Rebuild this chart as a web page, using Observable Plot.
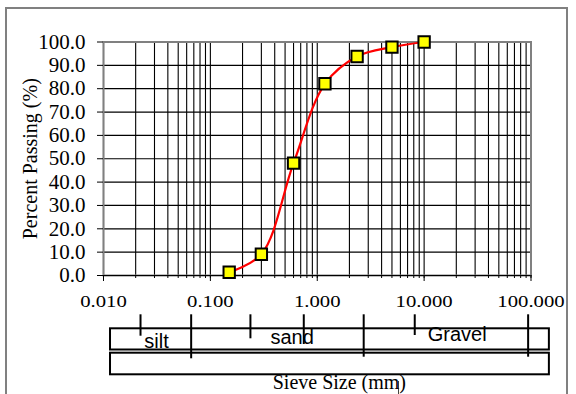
<!DOCTYPE html>
<html><head><meta charset="utf-8">
<script src="https://cdn.jsdelivr.net/npm/d3@7"></script>
<script src="https://cdn.jsdelivr.net/npm/@observablehq/plot@0.6"></script>
<style>
body{margin:0;background:#fff;}
#wrap{position:relative;width:576px;height:394px;overflow:hidden;background:#fff;}
#frame{position:absolute;left:5px;top:7px;width:563px;height:420px;border:2px solid #808080;box-sizing:border-box;}
#main{position:absolute;left:0;top:0;}
#band{position:absolute;left:0;top:305px;}
#stub{position:absolute;left:398px;top:381px;width:1px;height:13px;background:#444;}
#main svg, #main svg text, #main svg g{font-family:'Liberation Serif','Times New Roman',serif !important;}
</style></head><body><div id="wrap"><div id="frame"></div><div id="stub"></div><div id="main"></div><div id="band"></div></div>
<script>
// ---- data ----
const sieveSize = [0.15, 0.3, 0.6, 1.18, 2.36, 5, 10];
const percentPassing = [1.4, 9.1, 48.1, 82.1, 93.8, 97.8, 100];
const xMajorTicks = [0.01, 0.1, 1, 10, 100];
const yTicks = [0, 10, 20, 30, 40, 50, 60, 70, 80, 90, 100];
const xMinorTicks = [-2, -1, 0, 1].flatMap(k => [1,2,3,4,5,6,7,8,9].map(m => +(m * Math.pow(10, k)).toPrecision(3))).concat([100]);

// soil classification band (values in mm on the same log scale)
const classNames = ["silt", "sand", "Gravel"];
const classLabelX = [0.0313, 0.582, 20.4];
const classLabelRow = [3.63, 3.19, 2.86];
const bandTickX = [0.0222, 0.0661, 0.237, 0.748, 2.72, 8.17, 94];
const bandTickEnd = [3.07, 5.33, 3.33, 3.9, 5.17, 3.0, 5.17];
const bandTickStart = 0.93;
const boxRows = [[2.33, 4.45], [4.77, 6.93]];
const boxSpan = [0.01163, 148.6];
const xTitle = "Sieve Size (mm)";
const xTitleX = 1.61, xTitleRow = 7.69;
const yTitle = "Percent Passing (%)";

const serif = "Liberation Serif";
const sans = "Liberation Sans";

const pts = sieveSize.map((s, i) => ({s, p: percentPassing[i]}));

const main = Plot.plot({
  width: 576, height: 315,
  marginLeft: 103, marginRight: 45.5, marginTop: 41.5, marginBottom: 40,
  style: {fontSize: "21px", color: "#000", background: "transparent", overflow: "visible"},
  x: {type: "log", domain: [0.01, 100]},
  y: {domain: [0, 100]},
  marks: [
    Plot.ruleX(xMinorTicks, {stroke: "#000", strokeWidth: 1.1}),
    Plot.ruleY(yTicks, {stroke: "#000", strokeWidth: 1.2}),
    Plot.frame({stroke: "#808080", strokeWidth: 2}),
    Plot.ruleY([0], {stroke: "#000", strokeWidth: 1.2}),
    Plot.axisY(yTicks, {tickSize: 6, tickPadding: 12, tickFormat: d3.format(".1f"), fontSize: 21, fontFamily: serif,
      label: yTitle, labelAnchor: "center", labelArrow: "none", labelOffset: 81}),
    Plot.axisX(xMinorTicks, {tickSize: 3, tickFormat: () => "", label: null}),
    Plot.axisX(xMajorTicks, {tickSize: 6, tickPadding: 13, tickFormat: d3.format(".3f"), fontSize: 17, fontFamily: serif, label: null}),
    Plot.line(pts, {x: "s", y: "p", stroke: "#ff0000", strokeWidth: 2.2, curve: "catmull-rom"}),
    Plot.dot(pts, {x: "s", y: "p", symbol: "square", r: 6.4, fill: "#ffff00", stroke: "#000", strokeWidth: 2})
  ]
});
document.getElementById("main").appendChild(main);
d3.select(main).selectAll('g[aria-label="x-axis tick label"] text').each(function() {
  const t = this.getAttribute("transform") || "";
  this.setAttribute("transform", t + " scale(1.22,1)");
});
d3.select(main).selectAll('g[aria-label="y-axis label"] text').attr("font-size", 20);

const boxes = boxRows.map(r => ({x1: boxSpan[0], x2: boxSpan[1], y1: r[0], y2: r[1]}));
const bandTicks = bandTickX.map((x, i) => ({x, y1: bandTickStart, y2: bandTickEnd[i]}));
const labels = classNames.map((n, i) => ({n, x: classLabelX[i], y: classLabelRow[i]}));

const band = Plot.plot({
  width: 576, height: 89,
  marginLeft: 103, marginRight: 45.5, marginTop: 0, marginBottom: 0,
  style: {color: "#000", background: "transparent", overflow: "visible"},
  x: {type: "log", domain: [0.01, 100], axis: null},
  y: {domain: [0, 8.9], range: [0, 89], axis: null},
  marks: [
    Plot.rect(boxes, {x1: "x1", x2: "x2", y1: "y1", y2: "y2", fill: "none", stroke: "#000", strokeWidth: 2}),
    Plot.ruleX(bandTicks, {x: "x", y1: "y1", y2: "y2", stroke: "#000", strokeWidth: 2}),
    Plot.text(labels, {x: "x", y: "y", text: "n", fontFamily: sans, fontSize: 20, fill: "#000"}),
    Plot.text([xTitle], {x: () => xTitleX, y: () => xTitleRow, text: d => d, fontFamily: serif, fontSize: 20, fill: "#000"})
  ]
});
document.getElementById("band").appendChild(band);
</script>
</body></html>
